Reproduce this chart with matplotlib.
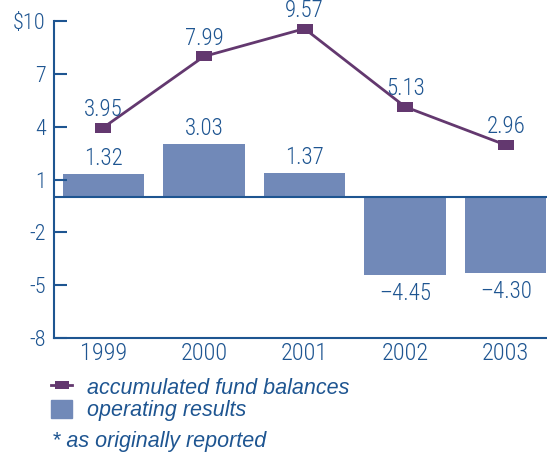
import matplotlib
matplotlib.use("Agg")
import matplotlib.pyplot as plt
from matplotlib.path import Path
from matplotlib.lines import Line2D
from matplotlib.patches import Patch
from matplotlib import font_manager
import numpy as np

years = ["1999", "2000", "2001", "2002", "2003"]
fund_balances = [3.95, 7.99, 9.57, 5.13, 2.96]
operating_results = [1.32, 3.03, 1.37, -4.45, -4.30]
yticks = [10, 7, 4, 1, -2, -5, -8]
ytick_labels = ["$10", "7", "4", "1", "-2", "-5", "-8"]

BLUE = "#1E5591"
BAR = "#7189B8"
PURPLE = "#63386F"
names = {f.name for f in font_manager.fontManager.ttflist}
narrow = [n for n in ["Roboto Condensed", "Liberation Sans Narrow", "DejaVu Sans Condensed"]
          if n in names] + ["Liberation Sans", "DejaVu Sans"]
plt.rcParams["font.family"] = ["Liberation Sans", "DejaVu Sans"]
NUM = dict(family=narrow, weight="light", color=BLUE)

# wide flat rectangle marker
rect = Path([(-0.5, -0.29), (0.5, -0.29), (0.5, 0.29), (-0.5, 0.29), (-0.5, -0.29)],
            [Path.MOVETO, Path.LINETO, Path.LINETO, Path.LINETO, Path.CLOSEPOLY])

fig = plt.figure(figsize=(5.47, 4.58), dpi=100)
ax = fig.add_axes([0.0987, 0.262, 0.9013, 0.692])

x = np.arange(len(years))
ax.bar(x, operating_results, width=0.81, color=BAR, zorder=1)
ax.plot(x, fund_balances, color=PURPLE, lw=2, marker=rect, markersize=11.5,
        markeredgewidth=0, zorder=3)
ax.axhline(0, color=BLUE, lw=1.5, zorder=2)

for xi, v in zip(x, fund_balances):
    ax.annotate(f"{v:.2f}", (xi, v), xytext=(0, 8.6), textcoords="offset points",
                ha="center", va="baseline", fontsize=16.5, **NUM)
for xi, v in zip(x, operating_results):
    if v >= 0:
        ax.annotate(f"{v:.2f}", (xi, v), xytext=(0, 6.3), textcoords="offset points",
                    ha="center", va="baseline", fontsize=16.5, **NUM)
    else:
        ax.annotate(f"\u2013{abs(v):.2f}", (xi, v), xytext=(0, -5), textcoords="offset points",
                    ha="center", va="top", fontsize=16.5, **NUM)

ax.set_xlim(-0.49, 4.41)
ax.set_ylim(-8, 10)
ax.set_yticks(yticks)
ax.set_yticklabels(ytick_labels, fontsize=16, **NUM)
ax.set_xticks(x)
ax.set_xticklabels(years, fontsize=17.5, **NUM)
ax.tick_params(axis="y", direction="in", length=9, width=1.5, color=BLUE, pad=6)
ax.tick_params(axis="x", length=0, pad=3)
for s in ["top", "right"]:
    ax.spines[s].set_visible(False)
for s in ["left", "bottom"]:
    ax.spines[s].set_color(BLUE)
    ax.spines[s].set_linewidth(1.5)

handles = [
    Line2D([0], [0], color=PURPLE, lw=2, marker=rect, markersize=10, markeredgewidth=0),
    Patch(color=BAR),
]
leg = fig.legend(handles, ["accumulated fund balances", "operating results"],
                 loc="upper left", bbox_to_anchor=(0.093, 0.177), frameon=False,
                 borderpad=0, borderaxespad=0,
                 handlelength=1.0, handleheight=0.95, handletextpad=0.7, labelspacing=0.05,
                 prop={"style": "italic", "size": 15.5})
for t in leg.get_texts():
    t.set_color(BLUE)
fig.text(0.095, 0.037, "* as originally reported", style="italic", fontsize=15.5,
         color=BLUE, ha="left", va="center")

fig.savefig("out.png", dpi=100)
